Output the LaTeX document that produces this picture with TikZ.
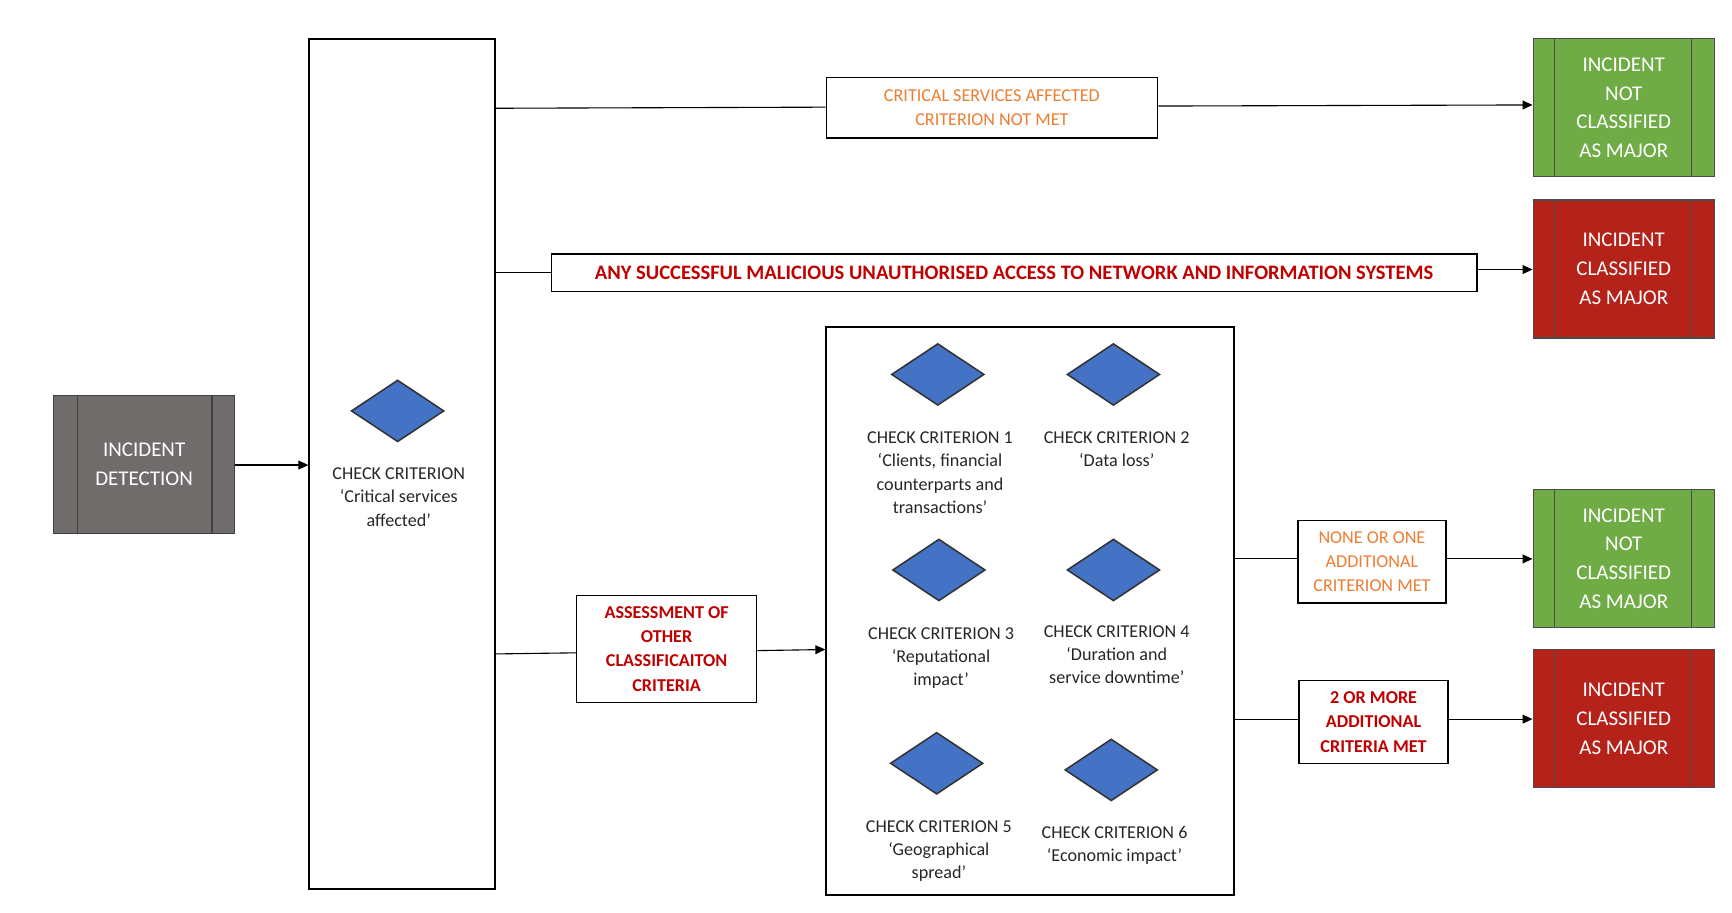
\documentclass[tikz,border=0pt]{standalone}
\usepackage{fontspec}
\setmainfont{Carlito}
\usetikzlibrary{shapes.geometric,arrows.meta}
\definecolor{grn}{HTML}{6FAC46}
\definecolor{rd}{HTML}{B4221A}
\definecolor{org}{HTML}{ED7D31}
\definecolor{drd}{HTML}{C00000}
\definecolor{blu}{HTML}{4472C4}
\definecolor{gry}{HTML}{706C6C}
\definecolor{txt}{HTML}{262626}
\begin{document}
\begin{tikzpicture}[x=0.5pt,y=-0.5pt,
  font=\fontsize{8.2pt}{10.5pt}\selectfont,
  lbl/.style={draw=black,line width=0.6pt,fill=white,align=center,inner sep=2pt},
  res/.style={draw=black!70,line width=0.6pt,text=white,align=center,minimum width=82pt,minimum height=62.5pt,font=\fontsize{9.5pt}{13pt}\selectfont},
  dia/.style={diamond,draw=black!80,line width=0.7pt,fill=blu,minimum width=42pt,minimum height=28pt,inner sep=0pt},
  crit/.style={text=txt,align=center},
  ln/.style={line width=0.5pt},
  arr/.style={ln,-{Triangle[length=4.5pt,width=4pt]}}]
\useasboundingbox (0,0) rectangle (1568,826);
% incident detection
\node[res,fill=gry,draw=black!75] (det) at (130.5,420.5) {INCIDENT\\DETECTION};
\draw[black!75,line width=0.6pt] (70,358)--(70,483) (192,358)--(192,483);
% big box
\node[draw=black,line width=0.8pt,minimum width=84pt,minimum height=385pt,inner sep=0pt] (big) at (364,420) {};
\node[dia] (d0) at (360,372) {};
\node[crit] (t0) at (361,450) {CHECK CRITERION\\‘Critical services\\affected’};
\draw[arr] (det.east|-0,421) -- (big.west|-0,421);
% results
\node[res,fill=grn] (g1) at (1470,97.5) {INCIDENT\\NOT\\CLASSIFIED\\AS MAJOR};
\node[res,fill=rd] (r1) at (1470,243.5) {INCIDENT\\CLASSIFIED\\AS MAJOR};
\node[res,fill=grn] (g2) at (1470,505.5) {INCIDENT\\NOT\\CLASSIFIED\\AS MAJOR};
\node[res,fill=rd] (r2) at (1470,650.5) {INCIDENT\\CLASSIFIED\\AS MAJOR};
\foreach \n in {g1,r1,g2,r2}{
  \draw[black!70,line width=0.6pt] ([xshift=10pt]\n.north west)--([xshift=10pt]\n.south west)
    ([xshift=-10.5pt]\n.north east)--([xshift=-10.5pt]\n.south east);}
% top branch
\node[lbl,text=org,minimum width=150pt,minimum height=27.5pt] (l1) at (898,97.5) {CRITICAL SERVICES AFFECTED\\CRITERION NOT MET};
\draw[ln] (big.east|-0,98) -- (l1.west|-0,97);
\draw[arr] (l1.east|-0,96) -- (g1.west|-0,95);
% second branch
\node[lbl,text=drd,font=\fontsize{9.3pt}{11pt}\selectfont\bfseries,minimum width=419pt,minimum height=17pt] (l2) at (918,247) {ANY SUCCESSFUL MALICIOUS UNAUTHORISED ACCESS TO NETWORK AND INFORMATION SYSTEMS};
\draw[ln] (big.east|-0,247) -- (l2.west|-0,247);
\draw[arr] (l2.east|-0,244) -- (r1.west|-0,244);
% assessment
\node[lbl,text=drd,font=\fontsize{8.2pt}{11pt}\selectfont\bfseries,minimum width=81.5pt,minimum height=48.5pt] (l3) at (603.5,587.5) {ASSESSMENT OF\\OTHER\\CLASSIFICAITON\\CRITERIA};
\node[draw=black,line width=0.8pt,minimum width=184.5pt,minimum height=257pt,inner sep=0pt] (cb) at (932.5,553) {};
\draw[ln] (big.east|-0,592) -- (l3.west|-0,591);
\draw[arr] (l3.east|-0,589) -- (cb.west|-0,588);
% criteria
\node[dia] (c1) at (849,339) {};
\node[dia] (c2) at (1008,339) {};
\node[dia] (c3) at (850,516) {};
\node[dia] (c4) at (1008,516) {};
\node[dia] (c5) at (848,691) {};
\node[dia] (c6) at (1006,697) {};
\node[crit,anchor=north] (tc1) at (851,384) {CHECK CRITERION 1\\‘Clients, financial\\counterparts and\\transactions’};
\node[crit,anchor=north] (tc2) at (1011,384) {CHECK CRITERION 2\\‘Data loss’};
\node[crit,anchor=north] (tc3) at (852,561) {CHECK CRITERION 3\\‘Reputational\\impact’};
\node[crit,anchor=north] (tc4) at (1011,559) {CHECK CRITERION 4\\‘Duration and\\service downtime’};
\node[crit,anchor=north] (tc5) at (850,736) {CHECK CRITERION 5\\‘Geographical\\spread’};
\node[crit,anchor=north] (tc6) at (1009,741) {CHECK CRITERION 6\\‘Economic impact’};
% outcomes
\node[lbl,text=org,font=\fontsize{8.2pt}{11pt}\selectfont,minimum width=67pt,minimum height=37.5pt] (l4) at (1242,508.5) {NONE OR ONE\\ADDITIONAL\\CRITERION MET};
\node[lbl,text=drd,font=\fontsize{8.2pt}{11pt}\selectfont\bfseries,minimum width=67.5pt,minimum height=37.5pt] (l5) at (1243.5,653.5) {2 OR MORE\\ADDITIONAL\\CRITERIA MET};
\draw[ln] (cb.east|-0,506) -- (l4.west|-0,506);
\draw[arr] (l4.east|-0,506) -- (g2.west|-0,506);
\draw[ln] (cb.east|-0,651) -- (l5.west|-0,651);
\draw[arr] (l5.east|-0,651) -- (r2.west|-0,651);
\end{tikzpicture}
\end{document}
